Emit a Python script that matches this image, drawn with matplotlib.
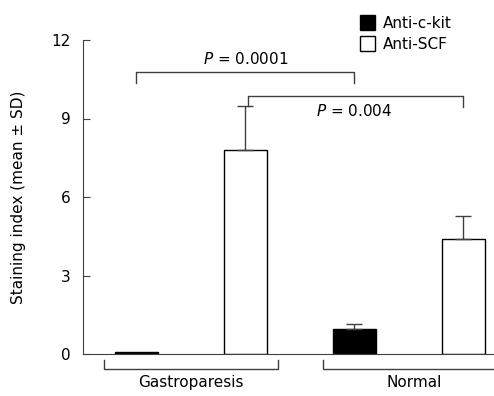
import matplotlib.pyplot as plt
from matplotlib.patches import Patch

groups = ['Gastroparesis', 'Normal']
series = ['Anti-c-kit', 'Anti-SCF']
means = [0.08, 7.8, 0.97, 4.4]
sds = [0.0, 1.68, 0.18, 0.87]
colors = ['black', 'white', 'black', 'white']
positions = [0, 1, 2, 3]
p_labels = ['$P$ = 0.0001', '$P$ = 0.004']

line_col = '#404040'
plt.rcParams['font.family'] = 'DejaVu Sans'
plt.rcParams['font.size'] = 11

fig = plt.figure(figsize=(4.94, 3.96), dpi=100)
ax = fig.add_axes([83 / 494, 1 - 354 / 396, 1 - 83 / 494, 314 / 396])

ax.bar(positions, means, width=0.40, color=colors, edgecolor='black', linewidth=1)
for x, m, s in zip(positions, means, sds):
    if s > 0:
        ax.errorbar(x, m, yerr=[[0], [s]], color=line_col, capsize=5.8, elinewidth=1, capthick=1)

ax.set_xlim(-0.49, 3.28)
ax.set_ylim(0, 12)
ax.set_yticks([0, 3, 6, 9, 12])
ax.set_xticks([])
ax.tick_params(axis='y', direction='in', length=5, pad=9, color=line_col, labelsize=11)
for side in ['top', 'right']:
    ax.spines[side].set_visible(False)
for side in ['left', 'bottom']:
    ax.spines[side].set_color(line_col)
ax.set_ylabel('Staining index (mean ± SD)', fontsize=11, labelpad=18)

# group brackets under the axis
kw = dict(color=line_col, lw=1, clip_on=False)
ax.plot([-0.30, -0.30, 1.30, 1.30], [-0.22, -0.57, -0.57, -0.22], **kw)
ax.plot([1.71, 1.71, 3.40], [-0.22, -0.57, -0.57], **kw)
ax.text(0.5, -0.80, groups[0], ha='center', va='top', fontsize=11)
ax.text(2.55, -0.80, groups[1], ha='center', va='top', fontsize=11)

# significance brackets
ax.plot([0, 0, 2, 2], [10.36, 10.78, 10.78, 10.36], **kw)
ax.text(1.0, 10.95, p_labels[0], ha='center', va='bottom', fontsize=11)
ax.plot([1.02, 1.02, 3, 3], [9.48, 9.86, 9.86, 9.44], **kw)
ax.text(2.0, 9.6, p_labels[1], ha='center', va='top', fontsize=11)

handles = [Patch(facecolor=c, edgecolor='black') for c in ['black', 'white']]
fig.legend(handles, series, loc='upper left', bbox_to_anchor=(354 / 494, 1 - 9 / 396),
           frameon=False, fontsize=11, handlelength=1.0, handleheight=1.1,
           handletextpad=0.5, labelspacing=0.35, borderaxespad=0)

fig.savefig('out.png', dpi=100)
